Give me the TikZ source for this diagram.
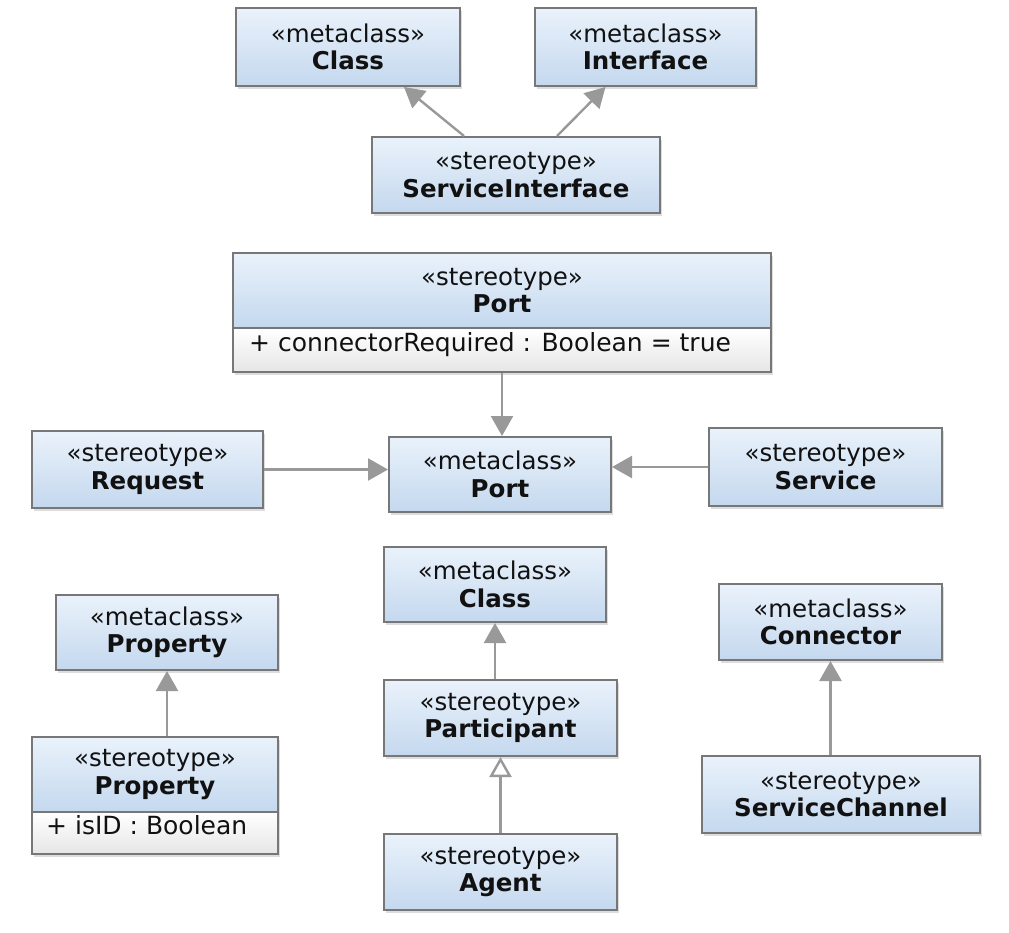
\documentclass[tikz,border=0pt]{standalone}
\usepackage{fontspec}
\setmainfont{DejaVu Sans}
\usetikzlibrary{arrows.meta,shadows,calc}
\definecolor{boxtop}{HTML}{EAF2FB}
\definecolor{boxbot}{HTML}{C4D8EE}
\definecolor{boxline}{HTML}{777777}
\definecolor{arrowgray}{HTML}{999999}
\definecolor{attrbot}{HTML}{E6E6E6}
\definecolor{txt}{HTML}{111111}
\begin{document}
\begin{tikzpicture}[x=1pt,y=-1pt,
  shad/.style={drop shadow={shadow xshift=2pt, shadow yshift=-3pt, opacity=0.22, fill=black!60}},
  box/.style={draw=boxline, line width=2pt, top color=boxtop, bottom color=boxbot,
    align=center, inner sep=0pt, font=\fontsize{24.5}{27.5}\selectfont, text=txt, shad},
  attrbox/.style={draw=boxline, line width=2pt, top color=white, bottom color=attrbot,
    inner sep=0pt, shad},
  attrtext/.style={anchor=base west, inner sep=0pt, font=\fontsize{25}{28}\selectfont, text=txt},
  gen/.style={draw=arrowgray, line width=2.4pt, -{Triangle[width=22pt,length=20pt]}},
  genopen/.style={draw=arrowgray, line width=2.4pt, -{Triangle[open,width=22pt,length=20pt,fill=white]}}
]
\useasboundingbox (0,0) rectangle (1009,932);

% top group
\node[box, minimum width=224pt, minimum height=78pt] (c1) at (348,47) {«metaclass»\\\textbf{Class}};
\node[box, minimum width=221pt, minimum height=78pt] (iface) at (645.5,47) {«metaclass»\\\textbf{Interface}};
\node[box, minimum width=288pt, minimum height=76pt] (si) at (516,175) {«stereotype»\\\textbf{ServiceInterface}};

% Port stereotype with attribute compartment
\node[box, minimum width=538pt, minimum height=75pt] (portS) at (502,290.5) {«stereotype»\\\textbf{Port}};
\node[attrbox, minimum width=538pt, minimum height=44pt] (portA) at (502,350) {};
\node[attrtext] (portAtxt) at ([xshift=17pt,yshift=-1pt]portA.west) {+ connectorRequired : Boolean = true};

% middle row
\node[box, minimum width=231pt, minimum height=77pt] (req) at (147.5,469.5) {«stereotype»\\\textbf{Request}};
\node[box, minimum width=222pt, minimum height=75pt] (mport) at (500,474.5) {«metaclass»\\\textbf{Port}};
\node[box, minimum width=233pt, minimum height=78pt] (svc) at (825.5,467) {«stereotype»\\\textbf{Service}};

% Participant column
\node[box, minimum width=222pt, minimum height=75pt] (c2) at (495,584.5) {«metaclass»\\\textbf{Class}};
\node[box, minimum width=233pt, minimum height=76pt] (part) at (500.5,718) {«stereotype»\\\textbf{Participant}};
\node[box, minimum width=233pt, minimum height=76pt] (agent) at (500.5,872) {«stereotype»\\\textbf{Agent}};

% Property column
\node[box, minimum width=222pt, minimum height=75pt] (mprop) at (167,632.5) {«metaclass»\\\textbf{Property}};
\node[box, minimum width=246pt, minimum height=75pt] (sprop) at (155,774.5) {«stereotype»\\\textbf{Property}};
\node[attrbox, minimum width=246pt, minimum height=42pt] (spropA) at (155,833) {};
\node[attrtext] (spropAtxt) at ([xshift=15pt,yshift=-1pt]spropA.west) {+ isID : Boolean};

% Connector column
\node[box, minimum width=223pt, minimum height=76pt] (conn) at (830.5,622) {«metaclass»\\\textbf{Connector}};
\node[box, minimum width=278pt, minimum height=77pt] (sc) at (841,794.5) {«stereotype»\\\textbf{ServiceChannel}};

% connectors
\draw[gen] ([xshift=-52pt]si.north) -- ([xshift=56pt]c1.south);
\draw[gen] ([xshift=41pt]si.north) -- ([xshift=-40pt]iface.south);
\draw[gen] (portA.south) -- (portA.south |- mport.north);
\draw[gen] (req.east) -- (req.east -| mport.west);
\draw[gen] (svc.west) -- (svc.west -| mport.east);
\draw[gen] (part.north -| c2.south) -- (c2.south);
\draw[genopen] (agent.north) -- (agent.north |- part.south);
\draw[gen] (mprop.south |- sprop.north) -- (mprop.south);
\draw[gen] (conn.south |- sc.north) -- (conn.south);
\end{tikzpicture}
\end{document}
